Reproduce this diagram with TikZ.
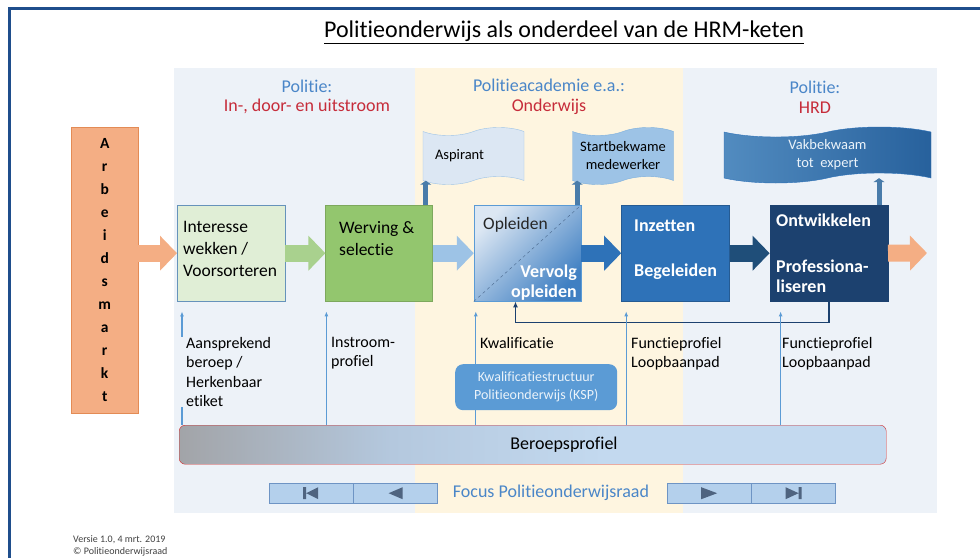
\documentclass[tikz,border=0pt]{standalone}
\usepackage{fontspec}
\setmainfont{Carlito}[Ligatures=NoCommon]
\usetikzlibrary{shapes.symbols, positioning, calc, arrows.meta}

\definecolor{frameblue}{HTML}{1F4E8C}
\definecolor{bandblue}{HTML}{EDF2F8}
\definecolor{bandyellow}{HTML}{FEF5E0}
\definecolor{headblue}{HTML}{4A86C8}
\definecolor{headred}{HTML}{C62C3A}
\definecolor{marktorange}{HTML}{F4AE84}
\definecolor{marktedge}{HTML}{E38B55}
\definecolor{palegreen}{HTML}{E0EED6}
\definecolor{midgreen}{HTML}{93C66E}
\definecolor{arrowgreen}{HTML}{A9D18E}
\definecolor{skyblue}{HTML}{9DC3E6}
\definecolor{opllight}{HTML}{DCE7F3}
\definecolor{opldark}{HTML}{3F7FC2}
\definecolor{midblue}{HTML}{2E72B8}
\definecolor{deepblue}{HTML}{1F4E79}
\definecolor{navy}{HTML}{1C416F}
\definecolor{lineblue}{HTML}{5B9BD5}
\definecolor{btnblue}{HTML}{B4D0EC}
\definecolor{btnedge}{HTML}{6E94C4}
\definecolor{iconblue}{HTML}{4F6480}
\definecolor{barleft}{HTML}{A2A4A8}
\definecolor{barmid}{HTML}{B4C8DE}
\definecolor{barright}{HTML}{C3D9EF}

% grey only at the far left, light blue for most of the bar
\pgfdeclarehorizontalshading{beroepshade}{100bp}{color(0bp)=(barleft); color(25bp)=(barleft);
    color(40bp)=(barmid); color(55bp)=(barright); color(100bp)=(barright)}

\begin{document}
\begin{tikzpicture}[x=1pt, y=-1pt,
    every node/.style={inner sep=0pt},
    stage/.style={draw, minimum width=107pt, minimum height=96pt, anchor=north west},
    boxtext/.style={anchor=north west, align=left, font=\fontsize{17.5}{22}\selectfont},
    whitebold/.style={text=white, font=\fontsize{18}{20}\selectfont\bfseries},
    flow/.style={line width=17pt, -{Triangle[length=17pt, width=34pt]}},
    banner/.style={tape, draw, tape bend height=8pt, align=center, font=\fontsize{14.5}{18}\selectfont},
    rise/.style={line width=5pt, lineblue!80!black, -{Triangle[length=4pt, width=11pt]}},
    feed/.style={lineblue, line width=1.2pt, -{Latex[length=5pt, width=4pt]}},
    lbl/.style={anchor=north west, align=left, font=\fontsize{16}{19.5}\selectfont},
    head/.style={align=center, font=\fontsize{18}{19.5}\selectfont},
    btn/.style={draw=btnedge, fill=btnblue, minimum width=84pt, minimum height=20pt, anchor=north west}
]
    \useasboundingbox (0,0) rectangle (980,557);

    % Bands behind the chain
    \fill[bandblue] (174,68) rectangle (415,513);
    \fill[bandyellow] (415,68) rectangle (683,513);
    \fill[bandblue] (683,68) rectangle (937,513);

    \node[font=\fontsize{24}{28}\selectfont] (title) at (564,32) {\underline{Politieonderwijs als onderdeel van de HRM-keten}};

    \node[head] (hdL) at (307,97) {\textcolor{headblue}{Politie:}\\\textcolor{headred}{In-, door- en uitstroom}};
    \node[head] (hdM) at (549,97) {\textcolor{headblue}{Politieacademie e.a.:}\\\textcolor{headred}{Onderwijs}};
    \node[head] (hdR) at (815,97) {\textcolor{headblue}{Politie:}\\\textcolor{headred}{HRD}};

    % Arbeidsmarkt column
    \node[draw=marktedge, fill=marktorange, minimum width=67pt, minimum height=286pt, anchor=north west,
          align=center, font=\fontsize{15.5}{23}\selectfont\bfseries] (arb) at (71,127)
          {A\\r\\b\\e\\i\\d\\s\\m\\a\\r\\k\\t};

    % The stages
    \node[stage, draw=lineblue!70!gray, fill=palegreen, minimum width=108pt] (int) at (177,205) {};
    \node[stage, draw=midgreen!85!black, fill=midgreen, right=40pt of int] (werv) {};
    \node[stage, draw=lineblue, top color=opllight, bottom color=opldark, shading angle=45, right=41pt of werv] (opl) {};
    \node[stage, draw=midblue!80!black, fill=midblue, minimum width=108pt, right=40pt of opl] (inz) {};
    \node[stage, draw=navy, fill=navy, minimum width=118pt, right=40pt of inz] (ontw) {};
    \draw[dashed, navy!80] (opl.south west) -- (opl.north east);

    \node[boxtext] (intT) at (183,221) {Interesse\\wekken /\\Voorsorteren};
    \node[boxtext] (wervT) at (339,221) {Werving \&\\selectie};
    \node[boxtext, text=black!85] (oplT) at (483,217) {Opleiden};
    \node[whitebold, anchor=north east, align=right] (vervT) at (577,265) {Vervolg\\opleiden};
    \node[whitebold, anchor=north west, align=left] (inzT) at (634,220) {Inzetten\\[25pt]Begeleiden};
    \node[whitebold, anchor=north west, align=left] (ontwT) at (776,214) {Ontwikkelen\\[26pt]Professiona-\\liseren};

    % Flow between the stages
    \coordinate (exit) at (927,253);
    \draw[flow, marktorange] (arb.east |- int.west) -- (int.west);
    \draw[flow, arrowgreen] (int.east) -- (werv.west);
    \draw[flow, skyblue] (werv.east) -- (opl.west);
    \draw[flow, midblue] (opl.east) -- (inz.west);
    \draw[flow, deepblue] (inz.east) -- (ontw.west);
    \draw[flow, marktorange] (ontw.east) -- (exit);

    % Results above the chain
    \node[banner, fill=opllight, draw=lineblue!60, minimum width=101pt, minimum height=57pt,
          text width=77pt, align=left, inner xsep=12pt] (asp) at (473.5,156) {Aspirant};
    \node[banner, fill=skyblue, draw=lineblue!80, minimum width=101pt, minimum height=57pt] (start) at (623,156) {Startbekwame\\medewerker};
    \node[banner, draw=midblue, left color=lineblue!90!black, right color=midblue!85!black, minimum width=207pt,
          minimum height=56pt, text=white!88!lineblue, tape bend height=10pt] (vak) at (827.5,155) {Vakbekwaam\\tot~~expert};

    \coordinate (w1) at ([xshift=-7pt]werv.north east);
    \coordinate (w2) at ([xshift=-4pt]opl.north east);
    \coordinate (w3) at ([xshift=-9pt]ontw.north east);
    \draw[rise] (w1) -- (w1 |- asp.south);
    \draw[rise] (w2) -- (w2 |- start.south);
    \draw[rise] (w3) -- (w3 |- vak.south);

    % Terugkoppeling
    \coordinate (oplIn) at ([xshift=-12pt]opl.south);
    \draw[navy, line width=1.5pt, -{Latex[length=6pt, width=5pt]}] (ontw.south) -- ++(0,21) -| (oplIn);

    % Beroepsprofiel as the base
    \node[draw=red!65!gray, rounded corners=6pt, shading=beroepshade, minimum width=707pt, minimum height=39pt,
          anchor=north west] (beroep) at (179,425) {};
    \node[font=\fontsize{18}{20}\selectfont] (beroepT) at (564,445) {Beroepsprofiel};

    \coordinate (f1) at ([xshift=5pt, yshift=-10pt]int.south west);
    \coordinate (f2) at ([xshift=1pt, yshift=-10pt]werv.south west);
    \coordinate (f3) at ([xshift=2pt, yshift=-10pt]opl.south west);
    \coordinate (f4) at ([xshift=5pt, yshift=-10pt]inz.south west);
    \coordinate (f5) at ([xshift=11pt, yshift=-10pt]ontw.south west);
    \foreach \f in {f1,f2,f3,f4,f5}
        \draw[feed] (\f |- beroep.north) -- (\f);

    \node[lbl, fill=bandblue, inner xsep=5pt] (lAan) at (181,337) {Aansprekend\\beroep /\\Herkenbaar\\etiket};
    \node[lbl] (lIn) at (331,337) {Instroom-\\profiel};
    \node[lbl] (lKw) at (480,337) {Kwalificatie};
    \node[lbl] (lFu) at (631,337) {Functieprofiel\\Loopbaanpad};
    \node[lbl] (lFu2) at (782,337) {Functieprofiel\\Loopbaanpad};

    \node[fill=lineblue, rounded corners=8pt, minimum width=162pt, minimum height=46pt, anchor=north west,
          align=center, text=white!88!lineblue, font=\fontsize{14}{18}\selectfont] (ksp) at (455,364)
          {Kwalificatiestructuur\\Politieonderwijs (KSP)};

    % Focus buttons
    \node[btn] (bFirst) at (269,483) {};
    \node[btn, right=0pt of bFirst] (bPrev) {};
    \node[btn] (bNext) at (667,483) {};
    \node[btn, right=0pt of bNext] (bLast) {};
    \fill[iconblue, shift={(bFirst.center)}] (-8,-6) rectangle (-5,6) (-5,0) -- (7,-6) -- (7,6) -- cycle;
    \fill[iconblue, shift={(bPrev.center)}] (-7,0) -- (7,-6) -- (7,6) -- cycle;
    \fill[iconblue, shift={(bNext.center)}] (-8,-6) -- (8,0) -- (-8,6) -- cycle;
    \fill[iconblue, shift={(bLast.center)}] (-8,-6) -- (5,0) -- (-8,6) -- cycle (5,-6) rectangle (8,6);
    \node[font=\fontsize{18}{20}\selectfont, text=headblue] (focus) at (551,493) {Focus Politieonderwijsraad};

    \node[anchor=north west, align=left, font=\fontsize{10}{12.5}\selectfont, text=black!75] (versie) at (73,535)
          {Versie 1.0, 4 mrt. 2019\\\textcopyright{} Politieonderwijsraad};

    % Frame
    \draw[frameblue, line width=3pt] (9,8) rectangle (1000,580);
\end{tikzpicture}
\end{document}
